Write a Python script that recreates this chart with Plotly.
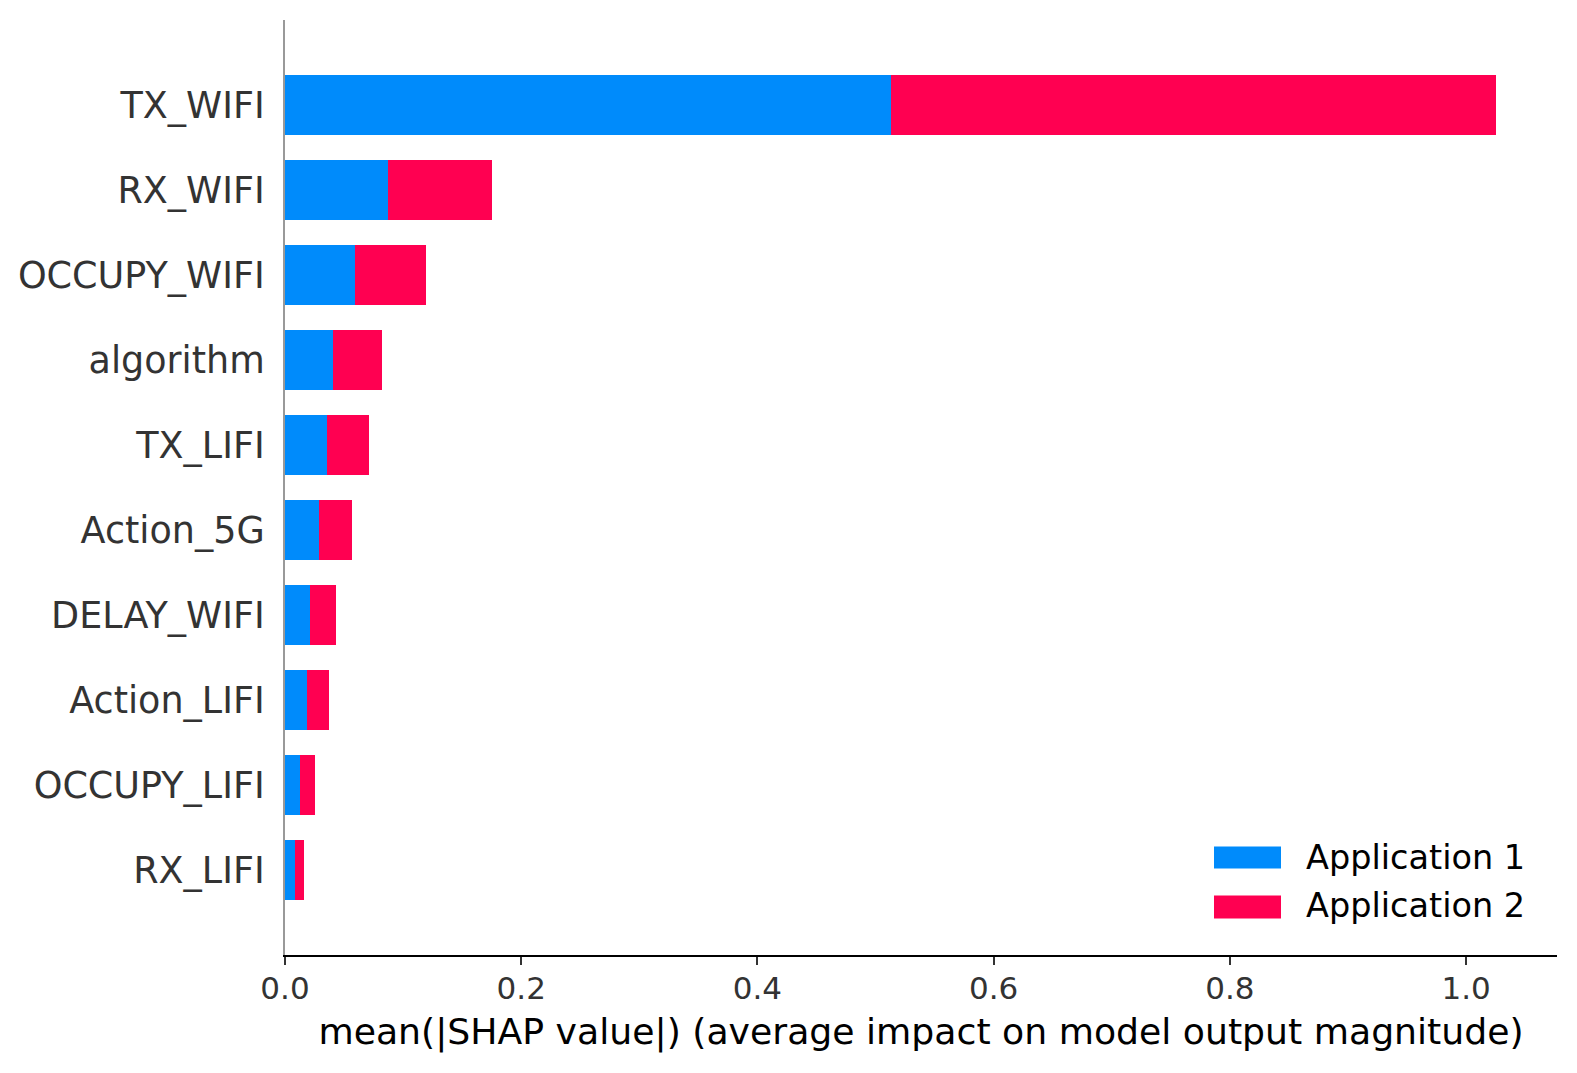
import plotly.graph_objects as go

features = ["TX_WIFI", "RX_WIFI", "OCCUPY_WIFI", "algorithm", "TX_LIFI",
            "Action_5G", "DELAY_WIFI", "Action_LIFI", "OCCUPY_LIFI", "RX_LIFI"]
app1 = [0.513, 0.0872, 0.0596, 0.0407, 0.0356, 0.0285, 0.0214, 0.0186, 0.0130, 0.0085]
app2 = [0.5127, 0.0881, 0.0598, 0.0415, 0.0355, 0.0282, 0.0215, 0.0184, 0.0127, 0.0076]
series_names = ["Application 1", "Application 2"]
colors = ["#008bfb", "#ff0051"]
x_ticks = [0.0, 0.2, 0.4, 0.6, 0.8, 1.0]
x_title = "mean(|SHAP value|) (average impact on model output magnitude)"

# the page body has an 8px margin, so the figure is shifted by 8px
OFF = 8
W, H = 1577 - OFF, 1073 - OFF
PL, PR, PT, PB = 285, 1557, 20, 955.5   # plot area in page pixels
L, T = PL - OFF, PT - OFF
R = W + OFF - PR
B = H + OFF - PB
FONT = "DejaVu Sans"

fig = go.Figure()
for name, vals, col in zip(series_names, [app1, app2], colors):
    fig.add_trace(go.Bar(
        y=features, x=vals, orientation="h", name=name,
        marker=dict(color=col, line=dict(width=0)), width=0.7,
        showlegend=False,
    ))

fig.update_layout(
    barmode="stack",
    width=W, height=H,
    margin=dict(l=L, r=R, t=T, b=B, pad=0, autoexpand=False),
    paper_bgcolor="white", plot_bgcolor="white",
    font=dict(family=FONT, color="#333333"),
    bargap=0.3,
)

fig.update_xaxes(
    range=[0, 1.077],
    tickvals=x_ticks,
    ticktext=[f"{v:.1f}" for v in x_ticks],
    ticks="outside", ticklen=8, tickwidth=2, tickcolor="#333333",
    showline=True, linecolor="black", linewidth=2,
    showgrid=False, zeroline=False, automargin=False,
    tickfont=dict(family=FONT, size=31, color="#333333"),
    ticklabelstandoff=-3,
    title=dict(text=x_title, font=dict(family=FONT, size=36.2, color="black"), standoff=13),
)

fig.update_yaxes(
    categoryorder="array", categoryarray=list(reversed(features)),
    range=[-1, len(features)],
    ticks="", showgrid=False, zeroline=False, automargin=False,
    showline=True, linecolor="#999999", linewidth=2,
    tickfont=dict(family=FONT, size=36.5, color="#333333"),
    ticklabelstandoff=11,
)

def px_x(p):
    return (p - PL) / (PR - PL)

def px_y(p):
    return (PB - p) / (PB - PT)

legend_rows = [(847, 869, 858), (896, 919, 906)]
for (ya, yb, yc), name, col in zip(legend_rows, series_names, colors):
    fig.add_shape(type="rect", xref="paper", yref="paper",
                  x0=px_x(1214), x1=px_x(1281), y0=px_y(yb), y1=px_y(ya),
                  fillcolor=col, line=dict(width=0))
    fig.add_annotation(xref="paper", yref="paper", x=px_x(1304), y=px_y(yc),
                       text=name, showarrow=False, xanchor="left", yanchor="middle",
                       font=dict(family=FONT, size=33.5, color="black"))

fig.write_html("out.html")
